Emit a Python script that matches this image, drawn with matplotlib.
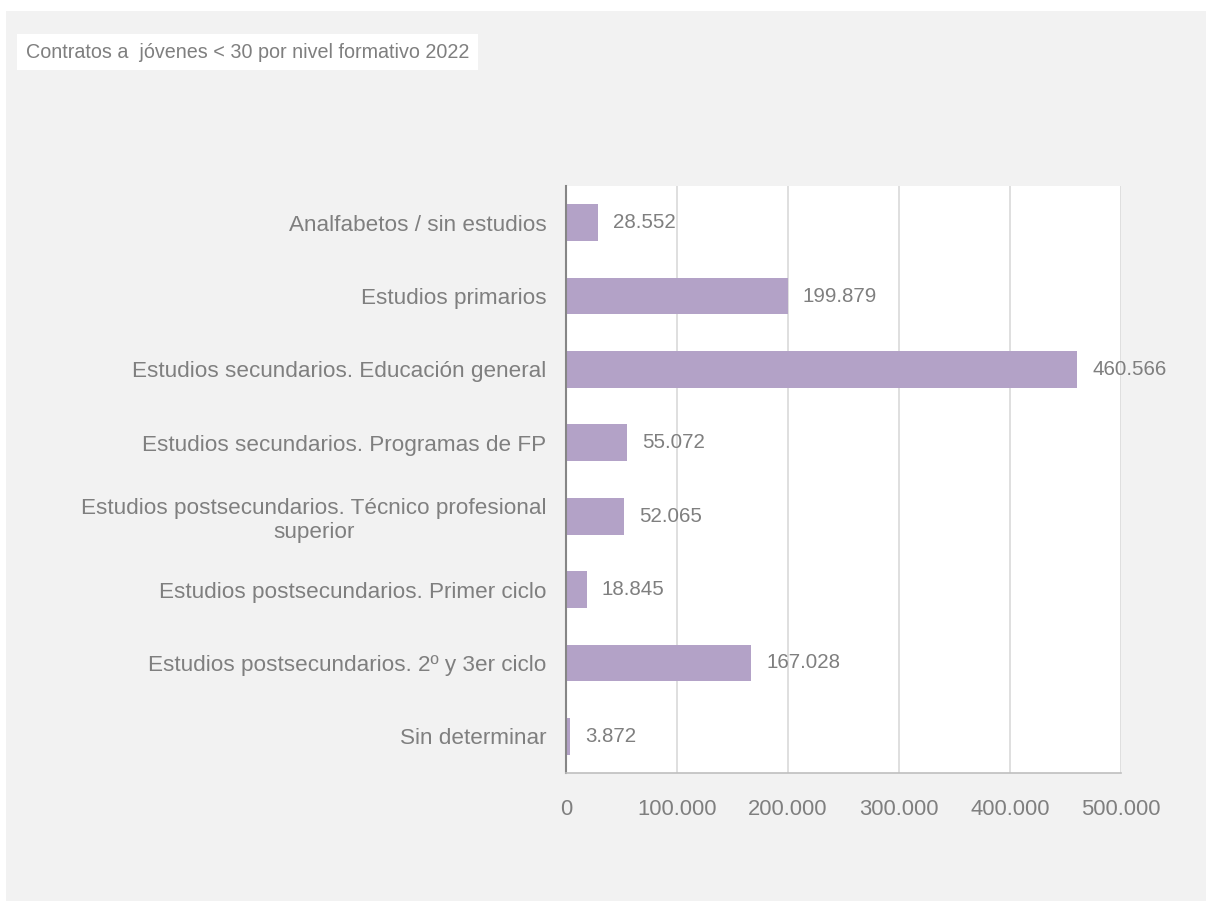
import matplotlib.pyplot as plt
from matplotlib.patches import Rectangle

plt.rcParams["font.family"] = ["Liberation Sans", "DejaVu Sans"]

categories = [
    "Analfabetos / sin estudios",
    "Estudios primarios",
    "Estudios secundarios. Educación general",
    "Estudios secundarios. Programas de FP",
    "Estudios postsecundarios. Técnico profesional\nsuperior",
    "Estudios postsecundarios. Primer ciclo",
    "Estudios postsecundarios. 2º y 3er ciclo",
    "Sin determinar",
]
values = [28552, 199879, 460566, 55072, 52065, 18845, 167028, 3872]
xticks = [0, 100000, 200000, 300000, 400000, 500000]
title = "Contratos a  jóvenes < 30 por nivel formativo 2022"

def fmt(v):
    return f"{v:,}".replace(",", ".")

text_col = "#7f7f7f"
bar_col = "#b3a2c7"
W, H = 1206, 901

fig = plt.figure(figsize=(W / 100, H / 100), dpi=100)
fig.patch.set_facecolor("white")
# gray chart panel
fig.patches.append(Rectangle((6 / W, 0), 1 - 6 / W, 1 - 11 / H, transform=fig.transFigure,
                             facecolor="#f2f2f2", edgecolor="none", zorder=-1))

ax = fig.add_axes([566 / W, 1 - 773 / H, (1121 - 566) / W, (773 - 186) / H])
ax.set_zorder(1)
ax.set_facecolor("white")

ypos = list(range(len(categories)))
ax.barh(ypos, values, height=0.5, color=bar_col, zorder=2)
for y, v in zip(ypos, values):
    ax.text(v + 13500, y, fmt(v), va="center", ha="left", fontsize=14.8, color=text_col, zorder=3)

ax.set_ylim(len(categories) - 0.5, -0.5)
ax.set_yticks(ypos)
ax.set_yticklabels(categories, fontsize=16.2, color=text_col, multialignment="center")
ax.set_xlim(0, 500000)
ax.set_xticks(xticks)
ax.set_xticklabels([fmt(t) for t in xticks], fontsize=15.8, color=text_col)
ax.tick_params(axis="both", length=0)
ax.tick_params(axis="y", pad=14)
ax.tick_params(axis="x", pad=19)
ax.grid(axis="x", color="#d9d9d9", linewidth=1.2, zorder=1)
for s in ["top", "right"]:
    ax.spines[s].set_visible(False)
ax.spines["left"].set_color("#868686")
ax.spines["left"].set_linewidth(1.5)
ax.spines["bottom"].set_color("#bfbfbf")
ax.spines["bottom"].set_linewidth(1.2)

fig.text(26 / W, 1 - 52 / H, title, fontsize=14.2, color=text_col, va="center", ha="left",
         bbox=dict(facecolor="white", edgecolor="none", boxstyle="square,pad=0.45"))

fig.savefig("out.png", dpi=100, facecolor=fig.get_facecolor())
